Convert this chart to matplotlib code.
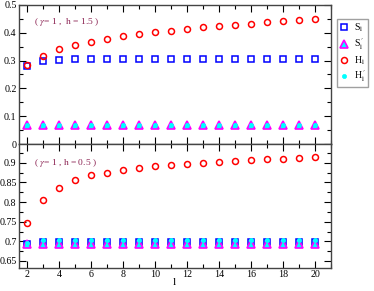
import matplotlib
matplotlib.use("Agg")
import matplotlib.pyplot as plt
from matplotlib.ticker import MultipleLocator

plt.rcParams["font.family"] = ["Liberation Serif", "DejaVu Serif"]
plt.rcParams["mathtext.fontset"] = "stix"

# sizes l
l_vals = list(range(2, 21))

# top panel (gamma = 1, h = 1.5)
s_top = [0.281, 0.297, 0.302, 0.305, 0.305, 0.305, 0.305, 0.305, 0.305, 0.305,
         0.305, 0.305, 0.305, 0.305, 0.305, 0.305, 0.305, 0.305, 0.305]
sp_top = [0.068] * 19
h_top = [0.284, 0.318, 0.340, 0.355, 0.367, 0.378, 0.387, 0.395, 0.402, 0.408,
         0.414, 0.419, 0.424, 0.429, 0.433, 0.438, 0.441, 0.445, 0.448]
hp_top = [0.068] * 19

# bottom panel (gamma = 1, h = 0.5)
s_bot = [0.693, 0.699, 0.699, 0.699, 0.699, 0.699, 0.699, 0.699, 0.699, 0.699,
         0.699, 0.699, 0.699, 0.699, 0.699, 0.699, 0.699, 0.699, 0.699]
sp_bot = [0.692] * 19
h_bot = [0.748, 0.805, 0.837, 0.856, 0.868, 0.875, 0.882, 0.886, 0.891, 0.894,
         0.897, 0.900, 0.903, 0.905, 0.908, 0.909, 0.911, 0.913, 0.915]
hp_bot = [0.695, 0.703, 0.703, 0.703, 0.703, 0.703, 0.703, 0.703, 0.703, 0.703,
          0.703, 0.703, 0.703, 0.703, 0.703, 0.703, 0.703, 0.703, 0.703]

labels = [r"S$_{\rm l}$", r"S$_{\rm l}^{\;\prime}$", r"H$_{\rm l}$", r"H$_{\rm l}^{\;\prime}$"]
note_color = "#8b2252"

fig = plt.figure(figsize=(3.74, 2.91), dpi=100)
ax1 = fig.add_axes([0.05, 0.505, 0.835, 0.478])
ax2 = fig.add_axes([0.05, 0.079, 0.835, 0.426])


def draw(ax, s, sp, h, hp):
    ax.plot(l_vals, s, ls="none", marker="s", ms=4, mfc="none", mec="blue", mew=1.1, label=labels[0])
    ax.plot(l_vals, sp, ls="none", marker="^", ms=6, mfc="cyan", mec="magenta", mew=1.2, label=labels[1])
    ax.plot(l_vals, h, ls="none", marker="o", ms=4.3, mfc="none", mec="red", mew=1.1, label=labels[2])
    ax.plot(l_vals, hp, ls="none", marker="o", ms=3, mfc="cyan", mec="cyan", mew=0.5, label=labels[3])
    ax.set_xlim(1.45, 21)
    ax.xaxis.set_major_locator(MultipleLocator(2))
    ax.xaxis.set_minor_locator(MultipleLocator(1))
    ax.tick_params(which="both", direction="in", top=True, right=True, labelsize=7.2, width=0.8, pad=1.5)
    ax.tick_params(which="major", length=5)
    ax.tick_params(which="minor", length=3)
    for sp_ in ax.spines.values():
        sp_.set_color("#444444")
        sp_.set_linewidth(1.0)


draw(ax1, s_top, sp_top, h_top, hp_top)
draw(ax2, s_bot, sp_bot, h_bot, hp_bot)

ax1.set_ylim(0, 0.5)
ax1.yaxis.set_minor_locator(MultipleLocator(0.05))
ax1.set_yticks([0, 0.1, 0.2, 0.3, 0.4, 0.5])
ax1.set_yticklabels(["0", "0.1", "0.2", "0.3", "0.4", "0.5"])
ax1.tick_params(labelbottom=False)

ax2.set_ylim(0.632, 0.948)
ax2.set_yticks([0.65, 0.7, 0.75, 0.8, 0.85, 0.9])
ax2.set_yticklabels(["0.65", "0.7", "0.75", "0.8", "0.85", "0.9"])
ax2.yaxis.set_minor_locator(MultipleLocator(0.025))
ax2.set_xlabel("l", fontsize=8, labelpad=-1)

ax1.text(0.05, 0.86, r"( $\gamma$= 1 ,  h = 1.5 )", transform=ax1.transAxes,
         fontsize=6.8, color=note_color)
ax2.text(0.05, 0.83, r"( $\gamma$= 1 , h = 0.5 )", transform=ax2.transAxes,
         fontsize=6.8, color=note_color)

handles, _ = ax1.get_legend_handles_labels()
leg = fig.legend(handles, labels, loc="upper left", bbox_to_anchor=(0.901, 0.935),
                 fontsize=7, frameon=True, fancybox=False, edgecolor="#888888",
                 handlelength=0.8, handletextpad=0.6, borderpad=0.3,
                 labelspacing=0.2, borderaxespad=0)
leg.get_frame().set_linewidth(1.0)

fig.savefig("out.png", dpi=100)
